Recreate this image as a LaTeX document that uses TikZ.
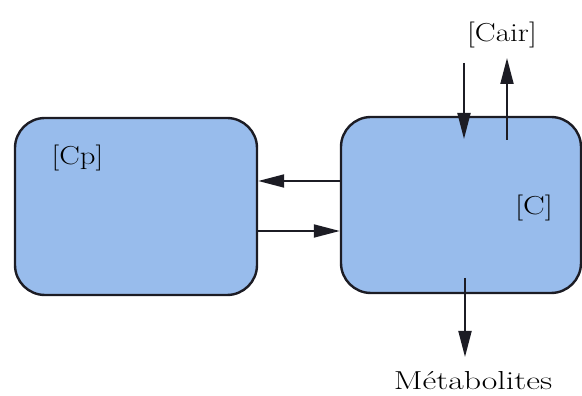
\documentclass[tikz,border=0pt]{standalone}
\usetikzlibrary{arrows.meta}
\definecolor{poolfill}{RGB}{152,188,236}
\definecolor{inkline}{RGB}{28,28,36}
\begin{document}
\begin{tikzpicture}[x=1pt,y=1pt,
  pool/.style={draw=inkline, line width=2.4pt, fill=poolfill, rounded corners=30pt,
    inner sep=0pt, minimum width=#1},
  flux/.style={draw=inkline, line width=1.9pt,
    -{Triangle[length=26pt,width=13pt]}},
  lbl/.style={inner sep=0pt, anchor=base, text=black,
    font=\fontsize{26}{30}\selectfont}]
  \useasboundingbox (0,0) rectangle (582,396);

  % compartments
  \node[pool=242pt, minimum height=177pt] (Cp) at (136,189.5) {};
  \node[pool=240pt, minimum height=176pt] (C) at (461,191) {};

  % exchange between the two compartments
  \draw[flux] (C.west |- 0,215) -- (Cp.east |- 0,215);
  \draw[flux] (Cp.east |- 0,165) -- (C.west |- 0,165);

  % air exchange and elimination
  \coordinate (airin) at (464,333);
  \coordinate (inC) at (464,257);
  \coordinate (outC) at (507,256);
  \coordinate (airout) at (507,338);
  \coordinate (metsrc) at (465,118);
  \coordinate (metend) at (465,39);
  \draw[flux] (airin) -- (inC);
  \draw[flux] (outC) -- (airout);
  \draw[flux] (metsrc) -- (metend);

  % labels
  \node[lbl] (tCp) at (77.5,231) {\scalebox{1.18}[1]{[Cp]}};
  \node[lbl] (tC) at (534,181) {\scalebox{1.25}[1]{[C]}};
  \node[lbl] (tair) at (502,354) {\scalebox{1.2}[1]{[Cair]}};
  \node[lbl] (tmet) at (473,6) {\scalebox{1.3}[1]{Métabolites}};
\end{tikzpicture}
\end{document}
